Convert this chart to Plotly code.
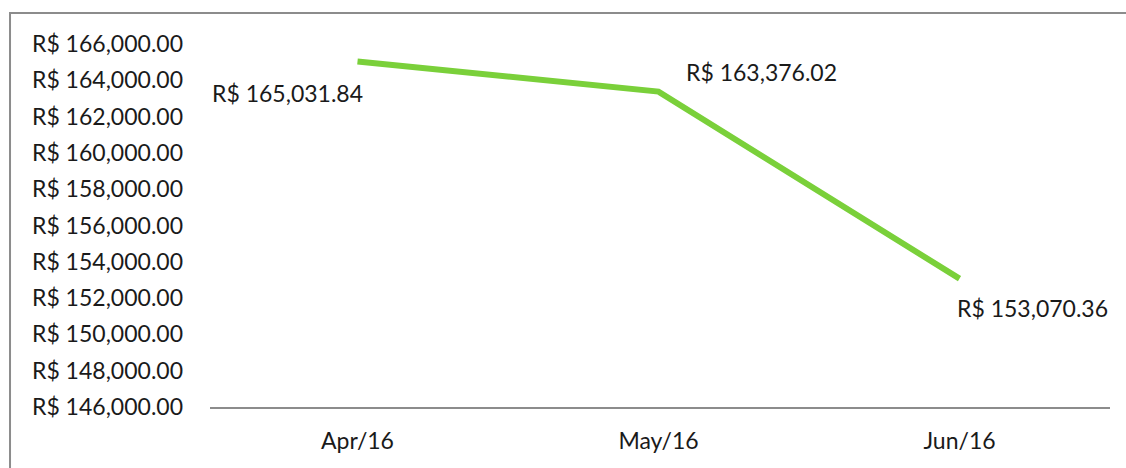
import plotly.graph_objects as go

months = ["Apr/16", "May/16", "Jun/16"]
values = [165031.84, 163376.02, 153070.36]
label_texts = ["R$ 165,031.84", "R$ 163,376.02", "R$ 153,070.36"]
y_ticks = list(range(146000, 166001, 2000))
y_tick_text = ["R$ {:,.2f}".format(v) for v in y_ticks]

FONT = "Lato"
FS = 23
fig = go.Figure()
fig.add_trace(go.Scatter(
    x=months, y=values, mode="lines",
    line=dict(color="#7ad03a", width=6),
    hoverinfo="skip", showlegend=False,
))

offsets = [(-70, -31), (103, 20), (73, -29)]
for m, v, t, (dx, dy) in zip(months, values, label_texts, offsets):
    fig.add_annotation(x=m, y=v, text=t, showarrow=False, xshift=dx, yshift=dy,
                       font=dict(family=FONT, size=FS, color="#1a1a1a"))

fig.add_shape(type="rect", xref="paper", yref="paper",
              x0=-0.2222, x1=1.1, y0=-0.3, y1=1.0854,
              line=dict(color="#8c8c8c", width=2), fillcolor="rgba(0,0,0,0)", layer="below")

fig.update_layout(
    width=1126, height=468,
    margin=dict(l=210, r=16, t=44, b=61),
    paper_bgcolor="white", plot_bgcolor="white",
    font=dict(family=FONT, size=FS, color="#1a1a1a"),
    xaxis=dict(showgrid=False, showline=True, linecolor="#8c8c8c", linewidth=2,
               ticks="", zeroline=False, ticklabelstandoff=12),
    yaxis=dict(range=[146000, 166000], tickvals=y_ticks, ticktext=y_tick_text,
               showgrid=False, showline=False, zeroline=False,
               ticks="", ticklabelstandoff=26),
)
fig.write_html(
    "out.html",
    config={"displayModeBar": False},
    post_script="document.body.style.margin='0';document.documentElement.style.overflow='hidden';document.body.style.overflow='hidden';",
)
